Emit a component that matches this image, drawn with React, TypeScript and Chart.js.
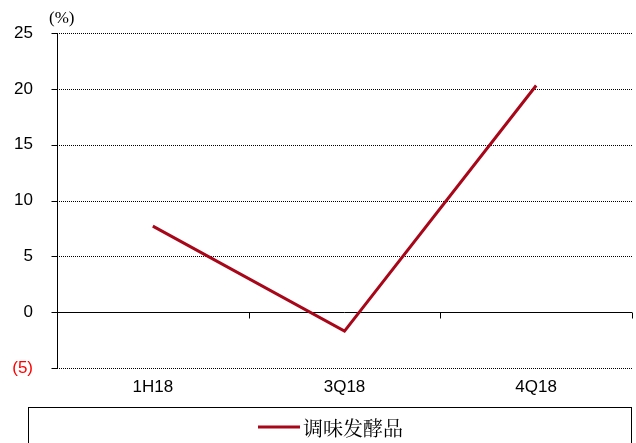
import React, { useEffect, useRef } from "react";
import { Chart, registerables } from "chart.js";

Chart.register(...registerables);

const categories = ["1H18", "3Q18", "4Q18"];
const seriesName = "调味发酵品";
const seriesValues = [7.7, -1.7, 20.3];
const yTicks = [-5, 0, 5, 10, 15, 20, 25];
const unitLabel = "(%)";

const RED = "#A8071A";

const decorPlugin = {
  id: "decor",
  beforeDatasetsDraw(chart: any) {
    const { ctx, chartArea, scales } = chart;
    const y = scales.y;
    const x = scales.x;
    ctx.save();
    ctx.strokeStyle = "#000";
    ctx.lineWidth = 1;
    ctx.setLineDash([1, 1]);
    yTicks.forEach((v) => {
      if (v === 0) return;
      const py = Math.round(y.getPixelForValue(v)) + 0.5;
      ctx.beginPath();
      ctx.moveTo(chartArea.left, py);
      ctx.lineTo(chartArea.right, py);
      ctx.stroke();
    });
    ctx.setLineDash([]);
    const zy = Math.round(y.getPixelForValue(0)) + 0.5;
    ctx.beginPath();
    ctx.moveTo(chartArea.left, zy);
    ctx.lineTo(chartArea.right, zy);
    ctx.stroke();
    const n = categories.length;
    const half = (x.getPixelForValue(1) - x.getPixelForValue(0)) / 2;
    for (let i = 0; i <= n; i++) {
      const px = Math.round(x.getPixelForValue(Math.min(i, n - 1)) + (i === n ? half : -half)) + 0.5;
      ctx.beginPath();
      ctx.moveTo(px, zy);
      ctx.lineTo(px, zy + 6);
      ctx.stroke();
    }
    const ax = Math.round(chartArea.left) + 0.5;
    ctx.beginPath();
    ctx.moveTo(ax, y.getPixelForValue(25));
    ctx.lineTo(ax, y.getPixelForValue(-5));
    ctx.stroke();
    yTicks.forEach((v) => {
      const py = Math.round(y.getPixelForValue(v)) + 0.5;
      ctx.beginPath();
      ctx.moveTo(ax - 6, py);
      ctx.lineTo(ax, py);
      ctx.stroke();
    });
    ctx.restore();
  },
  afterDraw(chart: any) {
    const { ctx } = chart;
    const ds = chart.data.datasets[0];
    ctx.save();
    ctx.fillStyle = "#000";
    ctx.font = "17px 'Liberation Serif', serif";
    ctx.textAlign = "left";
    ctx.textBaseline = "middle";
    ctx.fillText(unitLabel, 49, 19);
    // legend box
    ctx.strokeStyle = "#000";
    ctx.lineWidth = 1;
    ctx.strokeRect(28.5, 407.5, 603, 40);
    // legend item
    ctx.strokeStyle = ds.borderColor;
    ctx.lineWidth = 3;
    ctx.beginPath();
    ctx.moveTo(258, 427);
    ctx.lineTo(300, 427);
    ctx.stroke();
    ctx.fillStyle = "#000";
    ctx.font = "20px 'Noto Serif CJK SC', 'Noto Sans CJK SC', serif";
    ctx.fillText(ds.label, 303, 428);
    ctx.restore();
  },
};

export default function App() {
  const ref = useRef<HTMLCanvasElement>(null);
  useEffect(() => {
    if (!ref.current) return;
    const chart = new Chart(ref.current, {
      type: "line",
      data: {
        labels: categories,
        datasets: [
          {
            label: seriesName,
            data: seriesValues,
            borderColor: RED,
            backgroundColor: RED,
            borderWidth: 3,
            pointRadius: 0,
            tension: 0,
          },
        ],
      },
      options: {
        animation: false,
        responsive: false,
        maintainAspectRatio: false,
        layout: { padding: { top: 33, right: 4, left: 0, bottom: 40 } },
        plugins: {
          tooltip: { enabled: false },
          legend: { display: false },
        },
        scales: {
          x: {
            type: "category",
            offset: true,
            grid: { display: false },
            border: { display: false },
            afterFit(scale: any) {
              scale.height = 35;
            },
            ticks: {
              color: "#000",
              font: { family: "'Liberation Sans', Arial, sans-serif", size: 17 },
              padding: 1,
            },
          },
          y: {
            min: -5,
            max: 25,
            grid: { display: false },
            border: { display: false },
            afterFit(scale: any) {
              scale.width = 57;
            },
            ticks: {
              stepSize: 5,
              padding: 16,
              color: (c: any) => (c.tick && c.tick.value < 0 ? "#FF0000" : "#000"),
              font: { family: "'Liberation Sans', Arial, sans-serif", size: 17 },
              callback: (v: any) => (v < 0 ? `(${Math.abs(v)})` : `${v}`),
            },
          },
        },
      },
      plugins: [decorPlugin],
    });
    return () => chart.destroy();
  }, []);
  return (
    <div style={{ position: "fixed", left: 0, top: 0, width: 636, height: 443, background: "#fff" }}>
      <canvas ref={ref} width={636} height={443} style={{ width: 636, height: 443 }} />
    </div>
  );
}
